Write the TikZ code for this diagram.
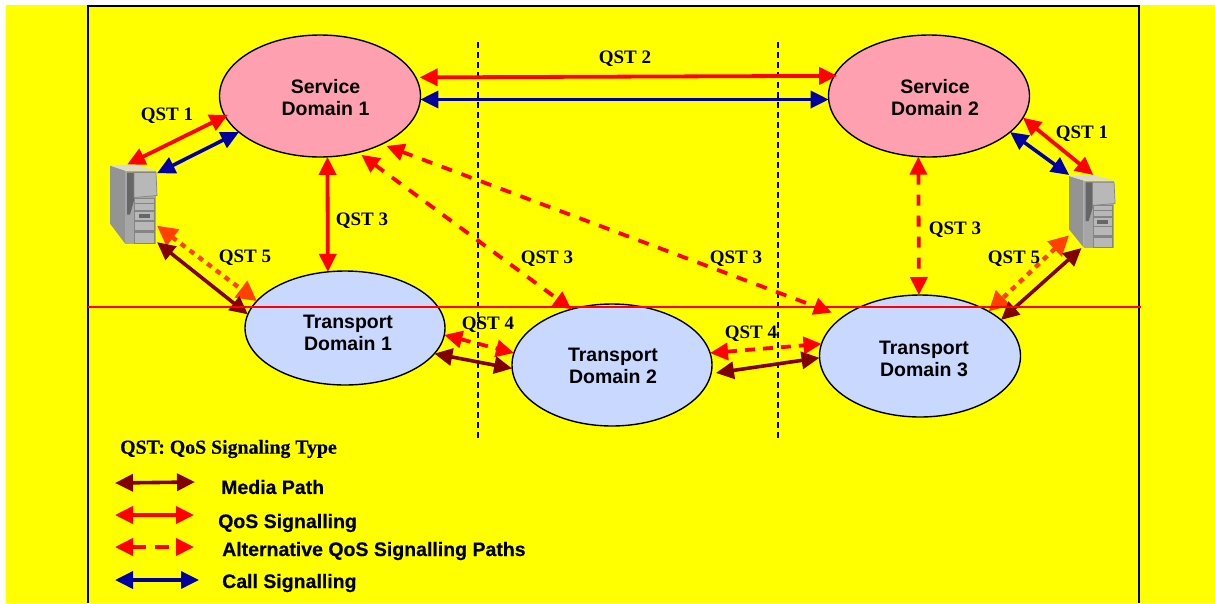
\documentclass[tikz,border=0pt]{standalone}
\usepackage{fontspec}
\setmainfont{Liberation Serif}
\setsansfont{Liberation Sans}
\newfontfamily\legendfont{Liberation Sans}[BoldFeatures={FakeBold=0.5}]
\newfontfamily\titlefont{Liberation Serif}[BoldFeatures={FakeBold=0.5}]
\usetikzlibrary{shapes.geometric,arrows.meta}
\definecolor{bgy}{RGB}{255,255,0}
\definecolor{pinkd}{RGB}{255,160,176}
\definecolor{blued}{RGB}{200,216,255}
\definecolor{callb}{RGB}{0,0,160}
\definecolor{mediar}{RGB}{128,0,0}
\definecolor{orangeq}{RGB}{255,64,0}
% text inside a domain, moved off the node's centre as in the reference
\newcommand{\domtext}[4]{\makebox[0pt]{\hspace{#1}\raisebox{\dimexpr-#2-8.4pt\relax}[0pt][0pt]{\begin{tabular}{@{}c@{}}#3\\#4\end{tabular}}}}
\tikzset{
  headtips/.style={{Triangle[length=#1,width=17pt]}-{Triangle[length=#1,width=17pt]}},
  bigtips/.style={{Triangle[length=#1,width=20pt]}-{Triangle[length=#1,width=20pt]}},
  dombox/.style={ellipse,draw=black,line width=1.4pt,inner sep=0pt,outer sep=0pt,
    font=\fontsize{19.5}{22}\selectfont\sffamily\bfseries,minimum width=201pt},
  sdom/.style={dombox,fill=pinkd,minimum height=122pt},
  tdom/.style={dombox,fill=blued,minimum height=122pt},
  qosline/.style={headtips=18pt,red,line width=3.8pt},
  altqos/.style={qosline,dash pattern=on 11pt off 10pt},
  callline/.style={headtips=18pt,callb,line width=3.6pt},
  medialine/.style={headtips=18pt,mediar,line width=3.6pt},
  dotq/.style={bigtips=20pt,orangeq,line width=4.4pt,dash pattern=on 5.5pt off 5.5pt},
  qstlabel/.style={font=\fontsize{19}{22}\selectfont\bfseries,inner sep=0pt},
  legendlabel/.style={font=\fontsize{19.5}{22}\selectfont\legendfont\bfseries,inner sep=0pt,anchor=west},
  srvbox/.style={rectangle,inner sep=0pt,outer sep=0pt},
  srvpic/.pic={
    \fill[black!42] (0,1)--(15,6)--(15,79)--(0,59)--cycle;
    \fill[black!15] (0,1)--(23,0)--(47,6)--(15,6)--cycle;
    \fill[black!35] (15,6)--(46,6)--(46,79)--(15,79)--cycle;
    \fill[black!60] (17,8)--(24,8)--(24,36)--(20,50)--(17,50)--cycle;
    \fill[black!28,draw=black!48,line width=.7pt] (24,8)--(46,8)--(47,31)--(24,33)--cycle;
    \fill[black!48] (24,33) rectangle (45,79);
    \foreach \ya/\yb in {34/38,39/45,47/55,57/65,68/78}{
      \fill[black!28] (25,\ya) rectangle (44,\yb);
    }
    \fill[black!60] (29,49) rectangle (40,53);
  }
}
\begin{document}
\begin{tikzpicture}[x=1pt,y=-1pt]
\useasboundingbox (0,0) rectangle (1215,603);
\fill[bgy] (6,5) rectangle (1215,603);
\draw[black,line width=1.5pt] (88,603) -- (88,6) -- (1139,6) -- (1139,603);

% domains
\node[sdom] (sd1) at (320,96) {\domtext{11pt}{1pt}{Service}{Domain 1}};
\node[sdom] (sd2) at (929,96) {\domtext{12pt}{1pt}{Service}{Domain 2}};
\node[tdom,minimum height=114pt,minimum width=200pt] (td1) at (345,328) {\domtext{6pt}{4pt}{Transport}{Domain 1}};
\node[tdom,minimum width=200pt] (td2) at (612,365) {\domtext{2pt}{0pt}{Transport}{Domain 2}};
\node[tdom] (td3) at (920,356) {\domtext{8pt}{1.5pt}{Transport}{Domain 3}};

% servers
\node[srvbox,minimum width=47pt,minimum height=80pt] (srv1) at (133.5,204.5) {};
\pic at (110,164.5) {srvpic};
\node[srvbox,minimum width=46pt,minimum height=73pt] (srv2) at (1092,211.5) {};
\pic[xscale=.98,yscale=.92] at (1069,175) {srvpic};

% boundaries
\coordinate (b1t) at (478,42); \coordinate (b1b) at (478,438);
\coordinate (b2t) at (778,42); \coordinate (b2b) at (778,438);
\draw[black,line width=1.5pt,dash pattern=on 6pt off 4pt] (b1t) -- (b1b);
\draw[black,line width=1.5pt,dash pattern=on 6pt off 4pt] (b2t) -- (b2b);

% connectors
\draw[qosline,shorten >=-3pt] (srv1.99) -- (sd1.192);
\draw[callline] (srv1.53) -- (sd1.204);
\draw[dotq] (srv1.318) -- (td1.163);
\draw[medialine] (srv1.302) -- (td1.172);
\draw[qosline] (sd2.347) -- (srv2.88);
\draw[callline] (sd2.336) -- (srv2.122);
\draw[dotq] (srv2.226) -- (td3.33);
\draw[medialine] (srv2.254) -- (td3.24);
\draw[qosline,shorten <=4pt,shorten >=-3pt] (sd1.11.5) -- (sd2.168);
\draw[callline] (sd1.358) -- (sd2.182);
\draw[qosline] (sd1.277) -- (td1.107);
\draw[altqos] (sd2.260) -- (td3.91);
\draw[altqos,shorten <=4pt] (sd1.304) -- (td2.126);
\draw[altqos,shorten <=5pt,shorten >=12pt] (sd1.322) -- (td3.153);
\draw[altqos,dash pattern=on 10pt off 8pt] (td1.356) -- (td2.173);
\draw[medialine] (td1.344) -- (td2.182);
\draw[altqos,dash pattern=on 10pt off 8pt] (td2.7) -- (td3.173);
\draw[medialine,shorten <=5pt] (td2.355) -- (td3.181);

% separator
\coordinate (hl) at (88,307); \coordinate (hr) at (1141,307);
\draw[red,line width=1.5pt] (hl) -- (hr);

% labels
\node[qstlabel] (l1) at (167,116) {QST 1};
\node[qstlabel] (l2) at (1082,134) {QST 1};
\node[qstlabel] (l3) at (625,59) {QST 2};
\node[qstlabel] (l4) at (362,221) {QST 3};
\node[qstlabel] (l5) at (547,259) {QST 3};
\node[qstlabel] (l6) at (736,259) {QST 3};
\node[qstlabel] (l7) at (955,230) {QST 3};
\node[qstlabel] (l8) at (488,325) {QST 4};
\node[qstlabel] (l9) at (751,334) {QST 4};
\node[qstlabel] (l10) at (245,258) {QST 5};
\node[qstlabel] (l11) at (1014,259) {QST 5};

% legend
\node[inner sep=0pt,anchor=west,font=\fontsize{19.8}{22}\selectfont\titlefont\bfseries] (lt) at (120,449) {QST: QoS Signaling Type};
\coordinate (m1) at (115,483); \coordinate (m2) at (195,482);
\coordinate (q1) at (115,515); \coordinate (q2) at (194,515);
\coordinate (a1) at (115,547); \coordinate (a2) at (194,547);
\coordinate (c1) at (115,580); \coordinate (c2) at (199,580);
\draw[medialine] (m1) -- (m2);
\draw[qosline] (q1) -- (q2);
\draw[altqos,dash pattern=on 14pt off 9pt] (a1) -- (a2);
\draw[callline] (c1) -- (c2);
\node[legendlabel] (lm) at (221,487) {Media Path};
\node[legendlabel] (lq) at (218,523) {QoS Signalling};
\node[legendlabel] (la) at (222,551) {Alternative QoS Signalling Paths};
\node[legendlabel] (lc) at (222,583) {Call Signalling};
\end{tikzpicture}
\end{document}
